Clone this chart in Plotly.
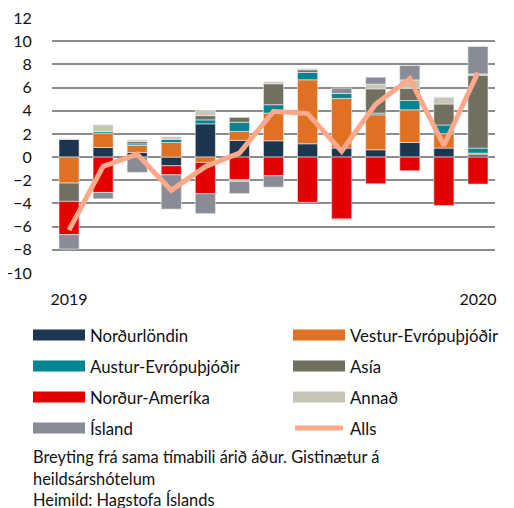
import plotly.graph_objects as go

months = list(range(13))
tick_vals = [0, 12]
tick_text = ["2019", "2020"]
y_ticks = [12, 10, 8, 6, 4, 2, 0, -2, -4, -6, -8, -10]

nordurlondin = [1.55, 0.83, 0.4, -0.75, 2.87, 1.44, 1.41, 1.15, 0.78, 0.63, 1.26, 0.78, 0.2]
vestur = [-2.24, 1.24, 0.6, 1.26, -0.46, 0.78, 2.39, 5.52, 4.28, 3.02, 2.82, 1.24, 0.14]
austur = [0, 0.14, 0.14, 0.29, 0.34, 0.78, 0.72, 0.63, 0.43, 0.14, 0.8, 0.75, 0.43]
asia = [-1.58, 0, 0.2, 0, 0.37, 0.43, 1.81, 0.23, 0, 2.1, 1.06, 1.81, 6.29]
nordur_amerika = [-2.87, -3.05, 0, -0.78, -2.7, -1.95, -1.61, -3.9, -5.34, -2.3, -1.18, -4.17, -2.33]
annad = [0, 0.57, 0.14, 0.2, 0.43, -0.14, 0.17, 0.1, -0.1, 0.4, 0.72, 0.6, 0.12]
island = [-1.24, -0.55, -1.32, -2.96, -1.72, -1.06, -0.98, 0, 0.46, 0.6, 1.24, 0, 2.36]
alls = [-6.3, -0.8, 0.25, -2.87, -0.82, 0.34, 3.95, 3.75, 0.5, 4.57, 6.75, 1.0, 7.3]

series = [
    ("Norðurlöndin", nordurlondin, "#1c3551"),
    ("Vestur-Evrópuþjóðir", vestur, "#e07122"),
    ("Austur-Evrópuþjóðir", austur, "#018494"),
    ("Asía", asia, "#716f5f"),
    ("Norður-Ameríka", nordur_amerika, "#e30000"),
    ("Annað", annad, "#c6c5b6"),
    ("Ísland", island, "#878c96"),
]
alls_color = "#fba98a"
FONT = "Lato"
TXT = "#111111"

fig = go.Figure()
for name, vals, col in series:
    fig.add_trace(go.Bar(x=months, y=vals, name=name, marker_color=col,
                         marker_line=dict(width=0.6, color="#eeeeee"),
                         showlegend=False))
fig.add_trace(go.Scatter(x=months, y=alls, name="Alls", mode="lines",
                         line=dict(color=alls_color, width=5), showlegend=False))

# page offset (body margin) compensation
OFF = 8
W, H = 514 - OFF, 508 - OFF
# plot area in reference pixels
L, R, T, B = 52, 495, 18, 273
def px(x):
    return (x - L) / (R - L)
def py(y):
    return (B - y) / (B - T)

shapes = []
annotations = []
legend_items = [(n, c, "bar") for n, _, c in series] + [("Alls", alls_color, "line")]
rows_y = [335, 366, 397, 428]
cols_x = [33, 293]
for i, (name, col, kind) in enumerate(legend_items):
    r, c = divmod(i, 2)
    x0 = cols_x[c]
    yc = rows_y[r]
    if kind == "bar":
        shapes.append(dict(type="rect", xref="paper", yref="paper",
                           x0=px(x0), x1=px(x0 + 52), y0=py(yc + 5.5), y1=py(yc - 5.5),
                           fillcolor=col, line=dict(width=0), layer="above"))
    else:
        shapes.append(dict(type="line", xref="paper", yref="paper",
                           x0=px(x0 + 2), x1=px(x0 + 50), y0=py(yc), y1=py(yc),
                           line=dict(color=col, width=5), layer="above"))
    annotations.append(dict(text=name, xref="paper", yref="paper", x=px(x0 + 55), y=py(yc),
                            xanchor="left", yanchor="middle", showarrow=False,
                            font=dict(size=16.8, color=TXT, family=FONT)))

caption = ["Breyting frá sama tímabili árið áður. Gistinætur á",
           "heildsárshótelum",
           "Heimild: Hagstofa Íslands"]
for line_text, yc in zip(caption, [456, 478, 499]):
    annotations.append(dict(text=line_text, xref="paper", yref="paper", x=px(31), y=py(yc),
                            xanchor="left", yanchor="middle", showarrow=False,
                            font=dict(size=16.4, color=TXT, family=FONT)))

fig.update_layout(
    template="none",
    width=W, height=H,
    margin=dict(l=L - OFF, r=W - (R - OFF), t=T - OFF, b=H - (B - OFF), pad=0),
    barmode="relative", bargap=0.41,
    plot_bgcolor="white", paper_bgcolor="white",
    font=dict(family=FONT, size=16, color=TXT),
    shapes=shapes, annotations=annotations,
    showlegend=False,
)
fig.update_xaxes(range=[-0.5, 12.5], tickvals=tick_vals, ticktext=tick_text,
                 showgrid=False, zeroline=False, showline=False, automargin=False,
                 ticks="outside", ticklen=12, tickcolor="rgba(0,0,0,0)",
                 ticklabeloverflow="allow", tickfont=dict(size=16))
fig.update_yaxes(range=[-10.001, 12.001], tickvals=y_ticks, showgrid=True,
                 gridcolor="#8c8c8c", gridwidth=1.8, zeroline=True,
                 zerolinecolor="#8c8c8c", zerolinewidth=1.8, showline=False,
                 automargin=False, ticklabeloverflow="allow",
                 ticks="outside", ticklen=16, tickcolor="rgba(0,0,0,0)",
                 tickfont=dict(size=16))

fig.write_html("out.html")
